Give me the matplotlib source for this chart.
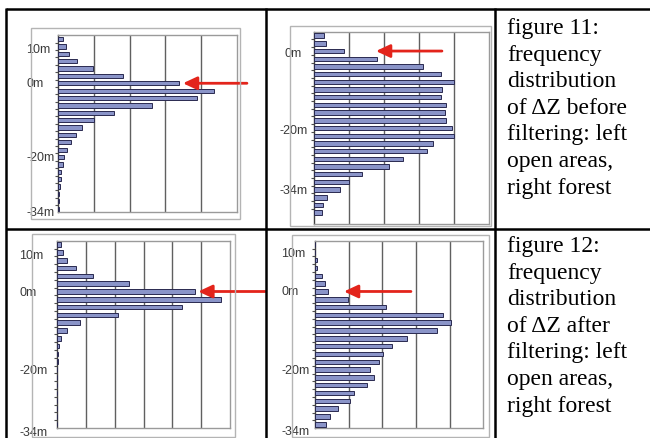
"""Frequency distribution of dZ before/after filtering (table of four bar charts)."""

import matplotlib

matplotlib.use("Agg")
import matplotlib.pyplot as plt
from matplotlib.lines import Line2D
from matplotlib.patches import Rectangle

W, H = 650, 439

# bar lengths in gridline units, one value per 2 m class, top row first
open_before = [0.14, 0.21, 0.30, 0.53, 0.98, 1.82, 3.39, 4.37, 3.88, 2.62, 1.57, 1.00,
               0.66, 0.51, 0.36, 0.25, 0.17, 0.14, 0.08, 0.07, 0.05, 0.04, 0.03, 0.02]
forest_before = [0.29, 0.35, 0.85, 1.81, 3.12, 3.62, 4.00, 3.66, 3.63, 3.78, 3.75, 3.78,
                 3.93, 3.99, 3.40, 3.22, 2.53, 2.14, 1.38, 0.99, 0.75, 0.36, 0.26, 0.22]
open_after = [0.13, 0.21, 0.35, 0.65, 1.26, 2.48, 4.78, 5.70, 4.35, 2.13, 0.80, 0.35,
              0.14, 0.07, 0.05, 0.03, 0, 0, 0, 0, 0, 0, 0, 0]
forest_after = [0, 0, 0.07, 0.07, 0.20, 0.29, 0.38, 0.99, 2.10, 3.81, 4.04, 3.63,
                2.72, 2.28, 2.03, 1.91, 1.63, 1.75, 1.55, 1.16, 1.04, 0.69, 0.45, 0.32]

# axis labels and the row where each one sits
labels_left = ["10m", "0m", "-20m", "-34m"]
labels_forest_before = ["0m", "-20m", "-34m"]
rows_open_before = [1.4, 6.0, 16.0, 23.4]
rows_forest_before = [2.3, 12.25, 20.0]
rows_open_after = [1.3, 6.1, 16.1, 24.05]
rows_forest_after = [1.1, 6.0, 16.1, 23.9]

# arrow tips (value, row) marking the 0 m class
arrow_tips = [(3.49, 6), (1.77, 2), (4.9, 6), (0.86, 6)]

caption_11 = ["figure 11:", "frequency", "distribution", "of \u0394Z before",
              "filtering: left", "open areas,", "right forest"]
caption_12 = ["figure 12:", "frequency", "distribution", "of \u0394Z after",
              "filtering: left", "open areas,", "right forest"]

BAR = "#8a94c8"
EDGE = "#2a2a50"
GRID = "#606060"
RED = "#e3241b"


def fx(x):
    return x / W


def fy(y):
    return 1 - y / H


def box(x0, y0, x1, y1):
    return [fx(x0), fy(y1), fx(x1) - fx(x0), fy(y0) - fy(y1)]


fig = plt.figure(figsize=(W / 100, H / 100), dpi=100)

panels = [
    # values, labels, label rows, inner box, outer box, xmax, ybottom, label dx, ha, arrow len
    (open_before, labels_left, rows_open_before, (58, 36.3, 237, 213.4),
     (31, 29, 240, 220), 5, 23.5, -31.5, "left", 64),
    (forest_before, labels_forest_before, rows_forest_before, (314, 32.8, 489, 224.5),
     (290, 27, 491, 227), 5, 24.4, -20.5, "center", 66),
    (open_after, labels_left, rows_open_after, (57, 241.8, 230, 429),
     (32, 235, 235, 437.5), 6, 23.5, -37.5, "left", 67),
    (forest_after, labels_left, rows_forest_after, (315, 241.7, 483.3, 429.2),
     (292, 236, 489, 438), 5, 23.5, -34, "left", 67),
]

for (vals, labs, lrows, inner, outer, xmax, ybot, dx, ha, alen), tip in zip(panels, arrow_tips):
    fig.add_artist(Rectangle((fx(outer[0]), fy(outer[3])), fx(outer[2]) - fx(outer[0]),
                             fy(outer[1]) - fy(outer[3]), transform=fig.transFigure,
                             fill=False, edgecolor="#b4b4b4", linewidth=1.0))
    ax = fig.add_axes(box(*inner))
    rows = list(range(len(vals)))
    ax.barh(rows, vals, height=0.58, color=BAR, edgecolor=EDGE, linewidth=0.7, zorder=3)
    ax.set_xlim(0, xmax)
    ax.set_ylim(ybot, -0.5)
    for g in range(1, xmax):
        ax.axvline(g, color=GRID, linewidth=1.0, zorder=1)
    ax.set_xticks([])
    ax.set_yticks([r + 0.5 for r in rows[:-1]])
    ax.set_yticklabels([])
    ax.tick_params(axis="y", length=2.5, width=0.8, color="#505050", direction="out")
    for side, sp in ax.spines.items():
        sp.set_color("#9a9a9a")
        sp.set_linewidth(1.0)
    ax.spines["left"].set_color("#404040")
    for lab, r in zip(labs, lrows):
        ax.annotate(lab, xy=(0, r), xycoords=("axes fraction", "data"),
                    xytext=(dx, 0), textcoords="offset pixels", ha=ha, va="center",
                    fontsize=9, color="#3a3a3a", family="Liberation Sans",
                    annotation_clip=False)
    ax.annotate("", xy=tip, xycoords="data", xytext=(alen, 0), textcoords="offset pixels",
                arrowprops=dict(arrowstyle="-|>,head_length=0.6,head_width=0.28",
                                mutation_scale=14, color=RED, linewidth=2.0,
                                shrinkA=0, shrinkB=0),
                annotation_clip=False, zorder=5)

# table rules
for (x0, y0, x1, y1) in [(6, 10, W, 10), (6, 229.5, W, 229.5), (6, 9, 6, H),
                         (266, 9, 266, H), (494.5, 9, 494.5, H)]:
    fig.add_artist(Line2D([fx(x0), fx(x1)], [fy(y0), fy(y1)], transform=fig.transFigure,
                          color="black", linewidth=1.8, solid_capstyle="butt"))

# captions
for lines, base in [(caption_11, 34), (caption_12, 252)]:
    for i, line in enumerate(lines):
        fig.text(fx(507), fy(base + 26.6 * i), line, ha="left", va="baseline",
                 fontsize=17, family="Liberation Serif", color="black")

fig.savefig("out.png", dpi=100)
plt.close(fig)
